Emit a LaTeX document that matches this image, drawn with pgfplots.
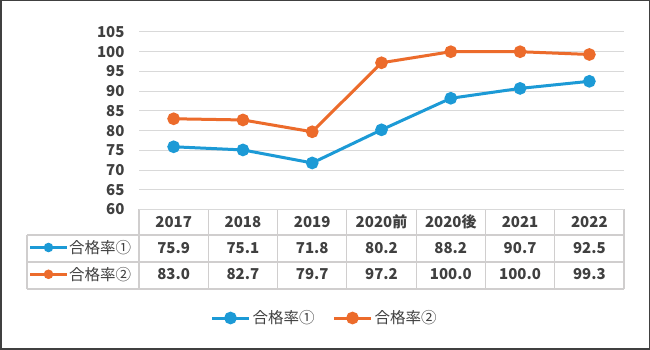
\documentclass[border=0pt]{standalone}
\usepackage{fontspec}
\setmainfont{Noto Sans CJK JP}
\usepackage{pgfplots}
\pgfplotsset{compat=1.18}
\usepackage{pgfplotstable}
\definecolor{serA}{HTML}{1C9AD6}
\definecolor{serB}{HTML}{EC6B2B}
\definecolor{txt}{HTML}{404040}
\definecolor{gridc}{HTML}{D9D9D9}
\definecolor{tabc}{HTML}{D0CECE}
\definecolor{frame}{HTML}{404040}

\pgfplotstableread{
x a b
0 75.9 83.0
1 75.1 82.7
2 71.8 79.7
3 80.2 97.2
4 88.2 100.0
5 90.7 100.0
6 92.5 99.3
}\rates

\newcommand{\numfont}{\fontsize{15}{18}\selectfont\bfseries}
\newcommand{\cjkfont}{\fontsize{15.5}{18}\selectfont}

\begin{document}
\begin{tikzpicture}[x=1pt,y=1pt]
\useasboundingbox (0,0) rectangle (650,350);
\fill[white] (0,0) rectangle (650,350);
% data table grid
\begin{scope}[tabc, line width=1.2pt]
\draw (139,140.5) -- (624,140.5);
\draw (27,115) -- (624,115);
\draw (27,88) -- (624,88);
\draw (27,61) -- (624,61);
\draw (27,61) -- (27,115);
\foreach \i in {0,...,7} {\draw ({139+69.2857*\i},61) -- ({139+69.2857*\i},140.5);}
\end{scope}
% legend keys inside data table
\draw[serA, line width=3pt] (30,102.5) -- (67,102.5);
\fill[serA] (48.5,102.5) circle (4.8pt);
\node[anchor=base west, inner sep=0pt, text=txt, font=\cjkfont] at (69,96.6) {合格率①};
\draw[serB, line width=3pt] (30,75.7) -- (67,75.7);
\fill[serB] (48.5,75.7) circle (4.8pt);
\node[anchor=base west, inner sep=0pt, text=txt, font=\cjkfont] at (69,69.8) {合格率②};

\begin{axis}[
  at={(139pt,140.5pt)}, anchor=south west,
  scale only axis, width=485pt, height=177.5pt,
  xmin=-0.5, xmax=6.5, ymin=60, ymax=105,
  ytick={60,65,...,105},
  xtick={0,...,6},
  xticklabels={2017,2018,2019,2020前,2020後,2021,2022},
  axis line style={draw=none},
  major tick length=0pt,
  ymajorgrids, grid style={gridc, line width=1pt},
  clip=false,
  /pgf/number format/assume math mode=true,
  tick label style={font=\numfont, text=txt},
  yticklabel style={anchor=east, xshift=-11pt},
  xticklabel style={anchor=base, yshift=-18.3pt},
  legend style={at={(0.3825,-0.6113)}, anchor=center, draw=none, fill=none,
    font=\cjkfont, text=txt, legend columns=2,
    /tikz/every even column/.append style={column sep=16pt}},
  legend image code/.code={\draw[mark repeat=2, mark phase=2, #1] plot coordinates {(0pt,0pt) (18.5pt,0pt) (37pt,0pt)};},
]
\addplot[serA, line width=3pt, mark=*, mark size=4.8pt, mark options={solid}] table[x=x, y=a] {\rates};
\addlegendentry{合格率①}
\addplot[serB, line width=3pt, mark=*, mark size=4.8pt, mark options={solid}] table[x=x, y=b] {\rates};
\addlegendentry{合格率②}
% values in data table
\addplot[forget plot, draw=none, mark=none, point meta=explicit,
  nodes near coords={\pgfmathprintnumber[fixed,fixed zerofill,precision=1]{\pgfplotspointmeta}},
  nodes near coords align={anchor=base},
  every node near coord/.append style={font=\numfont, text=txt, anchor=base, inner sep=0pt}]
  table[x=x, y expr=48.97, meta=a] {\rates};
\addplot[forget plot, draw=none, mark=none, point meta=explicit,
  nodes near coords={\pgfmathprintnumber[fixed,fixed zerofill,precision=1]{\pgfplotspointmeta}},
  nodes near coords align={anchor=base},
  every node near coord/.append style={font=\numfont, text=txt, anchor=base, inner sep=0pt}]
  table[x=x, y expr=42.18, meta=b] {\rates};
\end{axis}
\draw[frame, line width=1.5pt] (0.75,0.75) rectangle (649.25,349.25);
\end{tikzpicture}
\end{document}
